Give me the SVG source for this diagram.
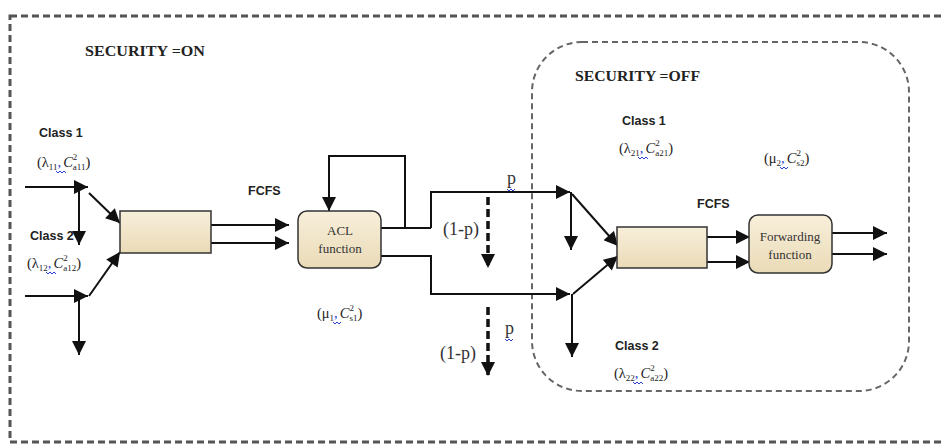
<svg xmlns="http://www.w3.org/2000/svg" width="941" height="446" viewBox="0 0 941 446">
<style>
.lbl{font-family:"Liberation Sans",Arial,sans-serif;font-size:12.5px;font-weight:bold;fill:#222}
.f{font-family:"Liberation Serif","Times New Roman",serif;font-size:14.5px;fill:#222}
.sub{font-size:9px}
.sec{font-family:"Liberation Serif","Times New Roman",serif;font-size:15px;font-weight:bold;fill:#222}
.big{font-family:"Liberation Serif","Times New Roman",serif;font-size:18px;fill:#333}
.bt{font-family:"Liberation Serif","Times New Roman",serif;font-size:13px;fill:#333;text-anchor:middle}
.ln{fill:none;stroke:#111;stroke-width:2;marker-end:url(#ah)}
.pl{fill:none;stroke:#111;stroke-width:2}
.da{fill:none;stroke:#111;stroke-width:3.5;stroke-dasharray:8,4;marker-end:url(#ah)}
.box{fill:url(#g);stroke:#333;stroke-width:1.5}
.sq{fill:none;stroke:#2a3fd0;stroke-width:1}
</style>
<defs>
<linearGradient id="g" x1="0" y1="0" x2="0" y2="1"><stop offset="0" stop-color="#f8efdb"/><stop offset="1" stop-color="#eadbb7"/></linearGradient>
<marker id="ah" viewBox="0 0 10 10" refX="10" refY="5" markerWidth="15" markerHeight="14" markerUnits="userSpaceOnUse" orient="auto"><path d="M0,0 L10,5 L0,10 z" fill="#111"/></marker>
</defs>
<rect width="941" height="446" fill="#fff"/>
<g id="outer">
<rect x="10" y="16" width="940" height="426" fill="none" stroke="#555" stroke-width="3" stroke-dasharray="7,4"/>
<text class="sec" x="85" y="56" textLength="120" lengthAdjust="spacingAndGlyphs">SECURITY =ON</text>
</g>
<g id="inner">
<rect x="532" y="42" width="377" height="349" rx="50" fill="none" stroke="#666" stroke-width="2" stroke-dasharray="6,4"/>
<text class="sec" x="575" y="81" textLength="125" lengthAdjust="spacingAndGlyphs">SECURITY =OFF</text>
</g>
<g id="connectors">
<path class="ln" d="M25,187 H88"/>
<path class="ln" d="M79,187 V245"/>
<path class="ln" d="M89,193 L120,223"/>
<path class="ln" d="M25,296 H88"/>
<path class="ln" d="M79,296 V355"/>
<path class="ln" d="M89,296 L120,252"/>
<path class="ln" d="M211,225 H289"/>
<path class="ln" d="M211,243 H289"/>
<path class="ln" d="M405,228 V156 H329 V211"/>
<path class="pl" d="M381,228 H431"/>
<path class="ln" d="M431,228 V192 H570"/>
<path class="ln" d="M381,256 H431 V294 H570"/>
<path class="da" d="M488,197 V268"/>
<path class="da" d="M488,307 V376"/>
<path class="ln" d="M571,192 V250"/>
<path class="ln" d="M572,194 L618,246"/>
<path class="ln" d="M572,294 V357"/>
<path class="ln" d="M573,294 L618,256"/>
<path class="ln" d="M707,237 H750"/>
<path class="ln" d="M707,262 H750"/>
<path class="ln" d="M832,233 H887"/>
<path class="ln" d="M832,254 H887"/>
</g>
<g id="queue1">
<rect class="box" x="120" y="211" width="91" height="42"/>
<text class="lbl" x="248" y="195">FCFS</text>
</g>
<g id="acl">
<rect class="box" x="298" y="211" width="83" height="57" rx="9"/>
<text class="bt" x="340" y="235">ACL</text>
<text class="bt" x="340" y="253">function</text>
</g>
<g id="queue2">
<rect class="box" x="617" y="227" width="90" height="41"/>
<text class="lbl" x="697" y="208">FCFS</text>
</g>
<g id="forwarding">
<rect class="box" x="749" y="215" width="83" height="58" rx="9"/>
<text class="bt" x="790" y="241">Forwarding</text>
<text class="bt" x="790" y="259">function</text>
</g>
<g id="labels">
<text class="lbl" x="39" y="137">Class 1</text>
<text class="f" x="37" y="167">(λ<tspan class="sub" dy="3">11</tspan><tspan dy="-3" fill="#2a3fd0">,</tspan><tspan font-style="italic" dx="2">C</tspan><tspan class="sub" dy="-7">2</tspan><tspan class="sub" dx="-4.5" dy="10">a11</tspan><tspan dy="-3">)</tspan></text>
<path class="sq" d="M56,171 l2,2 l2,-2 l2,2 l2,-2 l2,2"/>
<text class="lbl" x="30" y="240">Class 2</text>
<text class="f" x="27" y="268">(λ<tspan class="sub" dy="3">12</tspan><tspan dy="-3" fill="#2a3fd0">,</tspan><tspan font-style="italic" dx="2">C</tspan><tspan class="sub" dy="-7">2</tspan><tspan class="sub" dx="-4.5" dy="10">a12</tspan><tspan dy="-3">)</tspan></text>
<path class="sq" d="M46,272 l2,2 l2,-2 l2,2 l2,-2 l2,2"/>
<text class="f" x="317" y="318">(μ<tspan class="sub" dy="3">1</tspan><tspan dy="-3" fill="#2a3fd0">,</tspan><tspan font-style="italic" dx="2">C</tspan><tspan class="sub" dy="-7">2</tspan><tspan class="sub" dx="-4.5" dy="10">s1</tspan><tspan dy="-3">)</tspan></text>
<path class="sq" d="M333,322 l2,2 l2,-2 l2,2 l2,-2"/>
<text class="big" x="443" y="235">(1-p)</text>
<text class="big" x="440" y="359">(1-p)</text>
<text class="big" x="507" y="184" font-size="17">p</text>
<path class="sq" d="M507,189 l2,2 l2,-2 l2,2 l2,-2"/>
<text class="big" x="505" y="334" font-size="17">p</text>
<path class="sq" d="M505,339 l2,2 l2,-2 l2,2 l2,-2"/>
<text class="lbl" x="622" y="125">Class 1</text>
<text class="f" x="619" y="153">(λ<tspan class="sub" dy="3">21</tspan><tspan dy="-3" fill="#2a3fd0">,</tspan><tspan font-style="italic" dx="2">C</tspan><tspan class="sub" dy="-7">2</tspan><tspan class="sub" dx="-4.5" dy="10">a21</tspan><tspan dy="-3">)</tspan></text>
<path class="sq" d="M638,157 l2,2 l2,-2 l2,2 l2,-2 l2,2"/>
<text class="f" x="764" y="163">(μ<tspan class="sub" dy="3">2</tspan><tspan dy="-3" fill="#2a3fd0">,</tspan><tspan font-style="italic" dx="2">C</tspan><tspan class="sub" dy="-7">2</tspan><tspan class="sub" dx="-4.5" dy="10">s2</tspan><tspan dy="-3">)</tspan></text>
<path class="sq" d="M780,167 l2,2 l2,-2 l2,2 l2,-2"/>
<text class="lbl" x="615" y="350">Class 2</text>
<text class="f" x="614" y="378">(λ<tspan class="sub" dy="3">22</tspan><tspan dy="-3" fill="#2a3fd0">,</tspan><tspan font-style="italic" dx="2">C</tspan><tspan class="sub" dy="-7">2</tspan><tspan class="sub" dx="-4.5" dy="10">a22</tspan><tspan dy="-3">)</tspan></text>
<path class="sq" d="M633,382 l2,2 l2,-2 l2,2 l2,-2 l2,2"/>
</g>
</svg>
